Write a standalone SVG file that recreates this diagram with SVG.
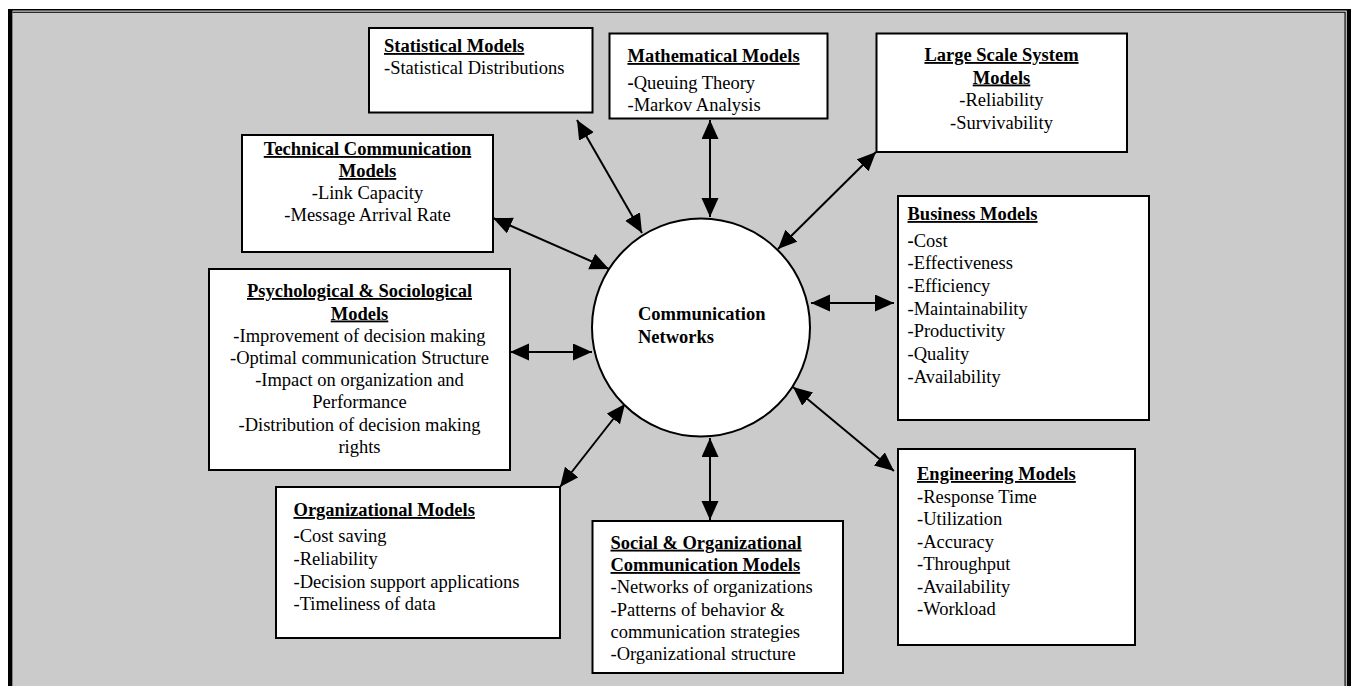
<svg xmlns="http://www.w3.org/2000/svg" width="1353" height="686" viewBox="0 0 1353 686">
<style>
text{font-family:"Liberation Serif","Times New Roman",serif;font-size:18.5px;fill:#000}
.t{font-weight:bold;text-decoration:underline}
.b{font-weight:bold}
.c{text-anchor:middle}
.box{fill:#fff;stroke:#000;stroke-width:2}
.ln{stroke:#000;stroke-width:2;fill:none;marker-start:url(#ah);marker-end:url(#ah)}
</style>
<defs>
<marker id="ah" markerUnits="userSpaceOnUse" markerWidth="20" markerHeight="18" refX="19" refY="8.5" orient="auto-start-reverse" viewBox="0 0 20 18">
<path d="M0,0 L19,8.5 L0,17 z" fill="#000"/>
</marker>
</defs>
<rect x="0" y="0" width="1353" height="686" fill="#fff"/>
<g id="frame">
<rect x="8" y="9" width="1343" height="700" fill="#000"/>
<rect x="12.5" y="10.6" width="1334.2" height="700" fill="#fff"/>
<rect x="12.5" y="11.6" width="1333.2" height="700" fill="#000"/>
<rect x="12.5" y="12.8" width="1332" height="700" fill="#cbcbcb"/>
</g>
<g id="connectors">
<line class="ln" x1="577" y1="120" x2="642" y2="233"/>
<line class="ln" x1="710" y1="120" x2="710" y2="217"/>
<line class="ln" x1="876" y1="152" x2="778" y2="249"/>
<line class="ln" x1="894" y1="303" x2="811" y2="303"/>
<line class="ln" x1="894" y1="471" x2="793" y2="387"/>
<line class="ln" x1="710" y1="520" x2="710" y2="438"/>
<line class="ln" x1="560" y1="487" x2="625" y2="404"/>
<line class="ln" x1="510" y1="352" x2="592" y2="352"/>
<line class="ln" x1="493" y1="218" x2="609" y2="269"/>
</g>
<g id="center">
<circle cx="701" cy="327.5" r="109" fill="#fff" stroke="#000" stroke-width="2"/>
<text class="b" x="638" y="320">Communication</text>
<text class="b" x="638" y="342.5">Networks</text>
</g>
<g id="statistical">
<rect class="box" x="369" y="28" width="223.5" height="84.5"/>
<text class="t" x="384" y="52">Statistical Models</text>
<text x="384" y="74">-Statistical Distributions</text>
</g>
<g id="mathematical">
<rect class="box" x="609.5" y="33.5" width="218" height="85"/>
<text class="t" x="627.5" y="62">Mathematical Models</text>
<text x="627.5" y="88.5"><tspan class="b">-</tspan>Queuing Theory</text>
<text x="627.5" y="111">-Markov Analysis</text>
</g>
<g id="largescale">
<rect class="box" x="876.5" y="33.5" width="250.5" height="118.5"/>
<text class="t c" x="1001.5" y="61">Large Scale System</text>
<text class="t c" x="1001.5" y="83.5">Models</text>
<text class="c" x="1001.5" y="106">-Reliability</text>
<text class="c" x="1001.5" y="128.5">-Survivability</text>
</g>
<g id="business">
<rect class="box" x="898" y="196" width="251" height="224"/>
<text class="t" x="907.5" y="220">Business Models</text>
<text x="907.5" y="246.5"><tspan class="b">-</tspan>Cost</text>
<text x="907.5" y="269.2">-Effectiveness</text>
<text x="907.5" y="291.9">-Efficiency</text>
<text x="907.5" y="314.6">-Maintainability</text>
<text x="907.5" y="337.3">-Productivity</text>
<text x="907.5" y="360">-Quality</text>
<text x="907.5" y="382.7">-Availability</text>
</g>
<g id="engineering">
<rect class="box" x="898" y="449" width="237" height="196"/>
<text class="t" x="917" y="480">Engineering Models</text>
<text x="917" y="502.6">-Response Time</text>
<text x="917" y="525.1">-Utilization</text>
<text x="917" y="547.6">-Accuracy</text>
<text x="917" y="570.1">-Throughput</text>
<text x="917" y="592.6">-Availability</text>
<text x="917" y="615">-Workload</text>
</g>
<g id="social">
<rect class="box" x="592.5" y="521" width="250.5" height="152"/>
<text class="t" x="610.5" y="548.7">Social &amp; Organizational</text>
<text class="t" x="610.5" y="571">Communication Models</text>
<text x="610.5" y="593.3">-Networks of organizations</text>
<text x="610.5" y="615.6">-Patterns of behavior &amp;</text>
<text x="610.5" y="637.9">communication strategies</text>
<text x="610.5" y="660.2">-Organizational structure</text>
</g>
<g id="organizational">
<rect class="box" x="276" y="487" width="284" height="151"/>
<text class="t" x="293.5" y="516">Organizational Models</text>
<text x="293.5" y="542"><tspan class="b">-</tspan>Cost saving</text>
<text x="293.5" y="565">-Reliability</text>
<text x="293.5" y="587.5">-Decision support applications</text>
<text x="293.5" y="609.5">-Timeliness of data</text>
</g>
<g id="psych">
<rect class="box" x="209" y="269" width="301" height="201"/>
<text class="t c" x="359.5" y="297">Psychological &amp; Sociological</text>
<text class="t c" x="359.5" y="319.5">Models</text>
<text class="c" x="359.5" y="341.5">-Improvement of decision making</text>
<text class="c" x="359.5" y="363.5">-Optimal communication Structure</text>
<text class="c" x="359.5" y="386">-Impact on organization and</text>
<text class="c" x="359.5" y="408">Performance</text>
<text class="c" x="359.5" y="431">-Distribution of decision making</text>
<text class="c" x="359.5" y="453">rights</text>
</g>
<g id="technical">
<rect class="box" x="242" y="135" width="251" height="117"/>
<text class="t c" x="367.5" y="155">Technical Communication</text>
<text class="t c" x="367.5" y="177">Models</text>
<text class="c" x="367.5" y="199">-Link Capacity</text>
<text class="c" x="367.5" y="221">-Message Arrival Rate</text>
</g>
</svg>
